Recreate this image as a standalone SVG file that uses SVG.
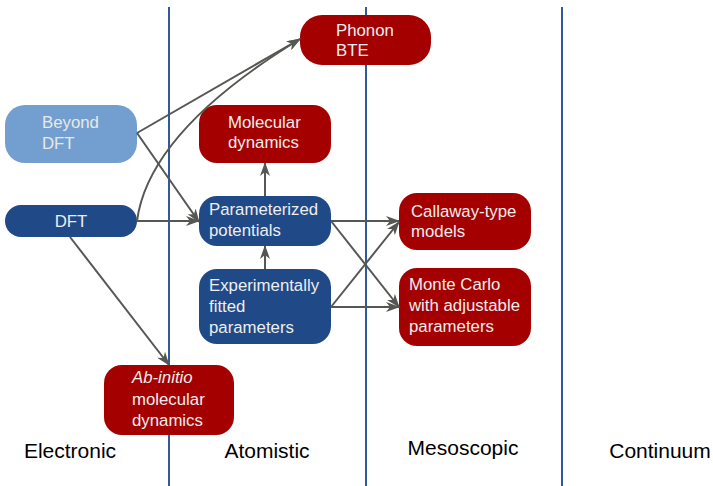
<svg xmlns="http://www.w3.org/2000/svg" width="713" height="486" viewBox="0 0 713 486">
<style>
.red{fill:#a40000}
.blue{fill:#204a87}
.lblue{fill:#729fcf}
.t{font-family:"Liberation Sans",Arial,sans-serif;font-size:16.8px;fill:#eeeeee}
.lab{font-family:"Liberation Sans",Arial,sans-serif;font-size:21px;fill:#000;text-anchor:middle}
.sep{stroke:#2f5a9e;stroke-width:2}
.c{stroke:#555753;stroke-width:2;fill:none;marker-end:url(#ah)}
</style>
<defs>
<marker id="ah" viewBox="0 0 14 10" refX="13" refY="5" markerWidth="14" markerHeight="10" markerUnits="userSpaceOnUse" orient="auto">
<path d="M0,0 L14,5 L0,10 L4,5 z" fill="#555753"/>
</marker>
</defs>
<rect width="713" height="486" fill="#fff"/>
<g id="separators">
<line class="sep" x1="169" y1="7" x2="169" y2="486"/>
<line class="sep" x1="366" y1="7" x2="366" y2="486"/>
<line class="sep" x1="562" y1="7" x2="562" y2="486"/>
</g>
<g id="n-phonon"><rect class="red" x="300" y="15" width="131" height="50" rx="22"/><text class="t" x="336" y="36">Phonon</text><text class="t" x="336" y="56">BTE</text></g>
<g id="n-beyond"><rect class="lblue" x="5" y="105" width="132" height="58" rx="20"/><text class="t" x="42" y="128" style="fill:#e8e8e8">Beyond</text><text class="t" x="42" y="149" style="fill:#e8e8e8">DFT</text></g>
<g id="n-md"><rect class="red" x="199" y="105" width="132" height="58" rx="18"/><text class="t" x="228" y="128">Molecular</text><text class="t" x="228" y="148">dynamics</text></g>
<g id="n-dft"><rect class="blue" x="5" y="205" width="132" height="32" rx="16"/><text class="t" x="71" y="227" text-anchor="middle">DFT</text></g>
<g id="n-param"><rect class="blue" x="199" y="196" width="132" height="50" rx="18"/><text class="t" x="209" y="215">Parameterized</text><text class="t" x="209" y="236">potentials</text></g>
<g id="n-exp"><rect class="blue" x="199" y="269" width="132" height="75" rx="18"/><text class="t" x="209" y="291">Experimentally</text><text class="t" x="209" y="312">fitted</text><text class="t" x="209" y="333">parameters</text></g>
<g id="n-callaway"><rect class="red" x="399" y="193" width="132" height="57" rx="18"/><text class="t" x="411" y="217">Callaway-type</text><text class="t" x="411" y="237">models</text></g>
<g id="n-mc"><rect class="red" x="399" y="268" width="132" height="78" rx="18"/><text class="t" x="409" y="290">Monte Carlo</text><text class="t" x="409" y="311">with adjustable</text><text class="t" x="409" y="332">parameters</text></g>
<g id="n-abinitio"><rect class="red" x="104" y="365" width="130" height="70" rx="18"/><text class="t" x="132" y="383" font-style="italic">Ab-initio</text><text class="t" x="132" y="405">molecular</text><text class="t" x="132" y="426">dynamics</text></g>
<g id="connectors">
<path class="c" d="M137,133 L300,39"/>
<path class="c" d="M137,221 C145,160 200,100 300,39"/>
<path class="c" d="M137,133 L199,222"/>
<path class="c" d="M137,221 L199,221"/>
<path class="c" d="M70,237 L169,365"/>
<path class="c" d="M265,196 L265,163"/>
<path class="c" d="M265,269 L265,246"/>
<path class="c" d="M331,221 L399,221"/>
<path class="c" d="M331,221 L399,307"/>
<path class="c" d="M331,307 L399,222"/>
<path class="c" d="M331,307 L399,307"/>
</g>
<g id="labels">
<text class="lab" x="70" y="458">Electronic</text>
<text class="lab" x="267" y="458">Atomistic</text>
<text class="lab" x="463" y="455">Mesoscopic</text>
<text class="lab" x="660" y="458">Continuum</text>
</g>
</svg>
